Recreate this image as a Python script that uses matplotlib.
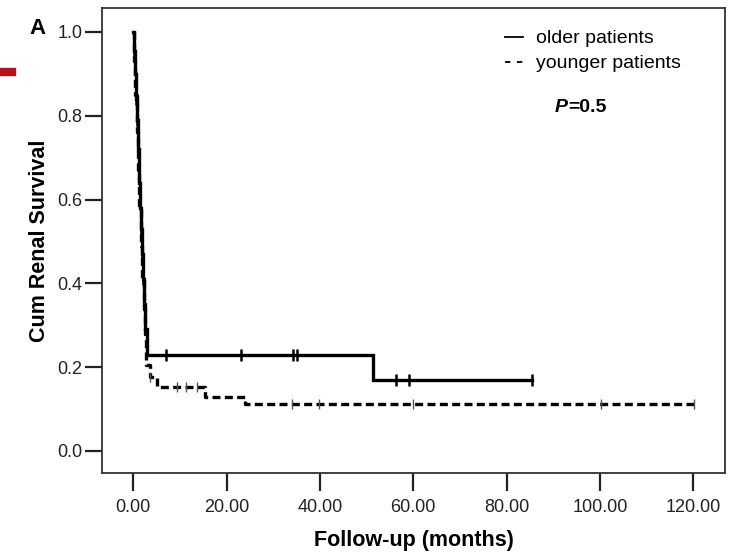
import matplotlib
matplotlib.use("Agg")
import matplotlib.pyplot as plt
from matplotlib.patches import Rectangle
from matplotlib.lines import Line2D

plt.rcParams['font.family'] = ['Liberation Sans', 'DejaVu Sans']

# Kaplan-Meier step curves (time in months, cumulative survival)
older_t = [0, 0.2, 0.4, 0.6, 0.8, 1.0, 1.2, 1.4, 1.6, 1.8, 2.0, 2.2, 2.5, 2.9, 51.3, 85.4]
older_s = [1.0, 0.955, 0.90, 0.84, 0.79, 0.72, 0.64, 0.58, 0.53, 0.47, 0.41, 0.35, 0.29, 0.23, 0.17, 0.17]

younger_t = [0, 0.2, 0.4, 0.7, 1.0, 1.3, 1.6, 1.9, 2.2, 2.5, 2.8, 3.6, 5.0, 15.4, 24.0, 120.2]
younger_s = [1.0, 0.93, 0.85, 0.76, 0.67, 0.58, 0.49, 0.41, 0.34, 0.28, 0.205, 0.177, 0.153, 0.13, 0.112, 0.112]

# Censored observations
older_cens_t = [0.2, 0.6, 0.8, 1.6, 1.8, 2.0, 7.0, 23.0, 34.2, 35.0, 56.2, 59.1, 85.4]
older_cens_s = [0.955, 0.84, 0.79, 0.53, 0.47, 0.41, 0.23, 0.23, 0.23, 0.23, 0.17, 0.17, 0.17]
younger_cens_t = [3.6, 9.3, 11.4, 13.6, 34.0, 39.9, 60.0, 100.2, 120.2]
younger_cens_s = [0.177, 0.153, 0.153, 0.153, 0.112, 0.112, 0.112, 0.112, 0.112]

x_ticks = [0, 20, 40, 60, 80, 100, 120]
y_ticks = [0.0, 0.2, 0.4, 0.6, 0.8, 1.0]
group_labels = ['older patients', 'younger patients']
p_value = 0.5

W, H = 729, 555
fig = plt.figure(figsize=(W / 100, H / 100), dpi=100)
ax = fig.add_axes([102 / W, 1 - 473 / H, (725 - 102) / W, (473 - 8) / H])

ax.step(older_t, older_s, where='post', color='black', lw=2.4,
        solid_joinstyle='miter')
ax.step(younger_t, younger_s, where='post', color='black', lw=2.4,
        linestyle=(0, (2.4, 1.3)))
ax.plot(older_cens_t, older_cens_s, linestyle='none', marker='|',
        markersize=9, markeredgewidth=1.8, color='black')
ax.plot(younger_cens_t, younger_cens_s, linestyle='none', marker='|',
        markersize=7, markeredgewidth=1.0, color='#555555')

ax.set_xlim(-6.7, 126.8)
ax.set_ylim(-0.0525, 1.057)
ax.set_xticks(x_ticks)
ax.set_xticklabels([f"{v:.2f}" for v in x_ticks])
ax.set_yticks(y_ticks)
ax.set_yticklabels([f"{v:.1f}" for v in y_ticks])

for sp in ax.spines.values():
    sp.set_color('#333333')
    sp.set_linewidth(1.3)

ax.tick_params(axis='x', direction='out', length=13, width=1.6, pad=6,
               labelsize=13, colors='#222222')
ax.tick_params(axis='y', direction='out', length=12, width=1.6, pad=2,
               labelsize=13, colors='#222222')

ax.set_xlabel('Follow-up (months)', fontsize=15.5, fontweight='bold', labelpad=10)
ax.set_ylabel('Cum Renal Survival', fontsize=15.5, fontweight='bold', labelpad=5)

handles = [
    Line2D([], [], color='black', lw=1.3),
    Line2D([], [], color='black', lw=1.3, linestyle=(0, (3.0, 3.6))),
]
ax.legend(handles, group_labels, loc='upper left',
          bbox_to_anchor=(497 / W, 1 - 22 / H), bbox_transform=fig.transFigure,
          frameon=False, fontsize=14, handlelength=0.95, handletextpad=0.65,
          labelspacing=0.38, borderaxespad=0)

py = (473 - 107) / 465
px = (568 - 102) / 623
ax.text(px, py, 'P', transform=ax.transAxes, fontsize=14,
        fontweight='bold', fontstyle='italic', ha='right', va='center')
ax.text(px, py, f'={p_value}', transform=ax.transAxes, fontsize=14,
        fontweight='bold', ha='left', va='center')

fig.text(38 / W, 1 - 28 / H, 'A', fontsize=16, fontweight='bold',
         ha='center', va='center')
fig.patches.append(Rectangle((0, 1 - 75 / H), 15 / W, 7 / H,
                             transform=fig.transFigure, color='#b5121b'))

fig.savefig('out.png', dpi=100)
